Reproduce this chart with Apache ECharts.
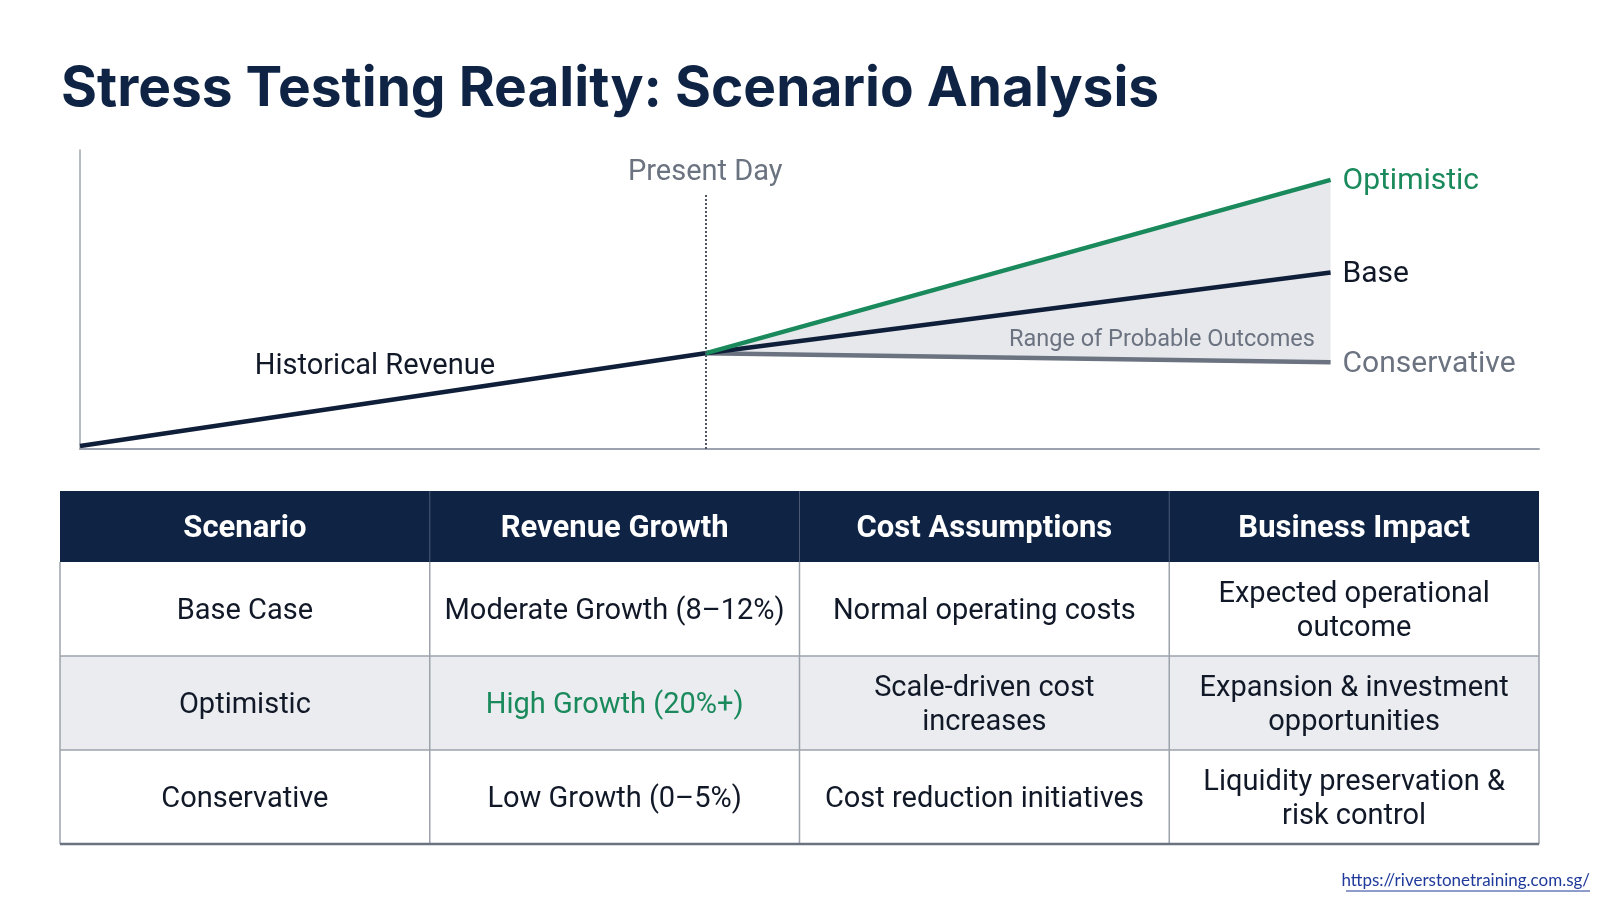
<!DOCTYPE html>
<html>
<head>
<meta charset="utf-8">
<title>Stress Testing Reality: Scenario Analysis</title>
<script src="https://cdn.jsdelivr.net/npm/echarts@6/dist/echarts.min.js"></script>
<style>
  html, body { margin: 0; padding: 0; background: #fff; }
  #chart { width: 1600px; height: 900px; }
</style>
</head>
<body>
<div id="chart"></div>
<script>
// timeline (periods) and revenue index
const historyX = [0, 6]
const historyRevenue = [1, 32]
const forecastX = [6, 12]
const optimistic = [32, 90]
const base = [32, 59]
const conservative = [32, 29]
const presentDay = 6

// scenario table
const tableHeaders = ['Scenario', 'Revenue Growth', 'Cost Assumptions', 'Business Impact']
const tableRows = [
  ['Base Case', 'Moderate Growth (8–12%)', 'Normal operating costs', 'Expected operational\noutcome'],
  ['Optimistic', 'High Growth (20%+)', 'Scale-driven cost\nincreases', 'Expansion & investment\nopportunities'],
  ['Conservative', 'Low Growth (0–5%)', 'Cost reduction initiatives', 'Liquidity preservation &\nrisk control']
]

const NAVY = '#0f2445'
const GREEN = '#1a8a5c'
const GREY = '#6b7280'
const FONT = 'Roboto'

const zip = (xs, ys) => xs.map((x, i) => [x, ys[i]])

// 表格用 graphic 画出来
function buildTable() {
  const left = 60, right = 1539, top = 491
  const headH = 71, rowH = 94
  const colW = (right - left) / tableHeaders.length
  const bottom = top + headH + rowH * tableRows.length
  const els = []

  els.push({ type: 'rect', shape: { x: left, y: top, width: right - left, height: headH }, style: { fill: NAVY } })
  tableRows.forEach((row, r) => {
    els.push({
      type: 'rect',
      shape: { x: left, y: top + headH + r * rowH, width: right - left, height: rowH },
      style: { fill: r % 2 === 1 ? '#eaecf0' : '#ffffff' }
    })
  })

  // grid lines
  for (let c = 1; c < tableHeaders.length; c++) {
    const x = left + c * colW
    els.push({ type: 'line', shape: { x1: x, y1: top, x2: x, y2: top + headH }, style: { stroke: '#4b5b75', lineWidth: 1 } })
    els.push({ type: 'line', shape: { x1: x, y1: top + headH, x2: x, y2: bottom }, style: { stroke: '#9ca3ad', lineWidth: 1.5 } })
  }
  for (let r = 1; r < tableRows.length; r++) {
    const y = top + headH + r * rowH
    els.push({ type: 'line', shape: { x1: left, y1: y, x2: right, y2: y }, style: { stroke: '#9ca3ad', lineWidth: 1.5 } })
  }
  els.push({ type: 'line', shape: { x1: left, y1: top + headH, x2: left, y2: bottom }, style: { stroke: '#9ca3ad', lineWidth: 1.5 } })
  els.push({ type: 'line', shape: { x1: right, y1: top + headH, x2: right, y2: bottom }, style: { stroke: '#9ca3ad', lineWidth: 1.5 } })
  els.push({ type: 'line', shape: { x1: left, y1: bottom, x2: right, y2: bottom }, style: { stroke: '#6b7280', lineWidth: 2.5 } })

  tableHeaders.forEach((h, c) => {
    els.push({
      type: 'text',
      x: left + c * colW + colW / 2,
      y: top + headH / 2 + 3,
      style: { text: h, fill: '#ffffff', font: 'bold 31px ' + FONT, align: 'center', verticalAlign: 'middle' }
    })
  })
  tableRows.forEach((row, r) => {
    row.forEach((cell, c) => {
      els.push({
        type: 'text',
        x: left + c * colW + colW / 2,
        y: top + headH + r * rowH + rowH / 2 + 3,
        style: {
          text: cell,
          fill: (r === 1 && c === 1) ? GREEN : '#111827',
          font: '29px ' + FONT,
          lineHeight: 34,
          align: 'center',
          verticalAlign: 'middle'
        }
      })
    })
  })

  // footer link
  els.push({
    type: 'text', x: 1590, y: 881,
    style: { text: 'https://riverstonetraining.com.sg/', fill: '#1f3a9a', font: '17px Lato', align: 'right', verticalAlign: 'middle' }
  })
  els.push({ type: 'line', shape: { x1: 1346, y1: 891, x2: 1590, y2: 891 }, style: { stroke: '#1f3a9a', lineWidth: 1 } })
  return els
}

const option = {
  backgroundColor: '#ffffff',
  animation: false,
  title: {
    text: 'Stress Testing Reality: Scenario Analysis',
    left: 56,
    top: 57,
    textStyle: { color: NAVY, fontSize: 55, fontWeight: 'bold', fontFamily: 'Inter' }
  },
  grid: { left: 80, right: 61, top: 150, bottom: 451 },
  xAxis: {
    type: 'value',
    min: 0,
    max: 14,
    axisLine: { show: true, lineStyle: { color: '#9ca3af', width: 2 } },
    axisTick: { show: false },
    axisLabel: { show: false },
    splitLine: { show: false }
  },
  yAxis: {
    type: 'value',
    min: 0,
    max: 100,
    axisLine: { show: true, lineStyle: { color: '#9ca3af', width: 1.5 } },
    axisTick: { show: false },
    axisLabel: { show: false },
    splitLine: { show: false }
  },
  series: [
    // shaded band between conservative and optimistic
    {
      type: 'custom',
      silent: true,
      z: 1,
      data: [0],
      renderItem: (params, api) => {
        const upper = forecastX.map((x, i) => api.coord([x, optimistic[i]]))
        const lower = forecastX.map((x, i) => api.coord([x, conservative[i]])).reverse()
        return { type: 'polygon', shape: { points: upper.concat(lower) }, style: { fill: '#e6e8ec' } }
      }
    },
    {
      name: 'Historical Revenue',
      type: 'line',
      z: 3,
      data: zip(historyX, historyRevenue),
      symbol: 'none',
      lineStyle: { color: '#0f1f3a', width: 4.5 },
      markPoint: {
        symbolSize: 0,
        data: [{ coord: [2.83, 27.5] }],
        label: { show: true, formatter: 'Historical Revenue', color: '#111827', fontSize: 29, fontFamily: FONT }
      },
      markLine: {
        symbol: 'none',
        silent: true,
        lineStyle: { color: '#4b5563', type: 'dotted', width: 2 },
        label: { show: true, position: 'end', formatter: 'Present Day', color: GREY, fontSize: 29, fontFamily: FONT, distance: 8 },
        data: [[{ coord: [presentDay, 0] }, { coord: [presentDay, 85] }]]
      }
    },
    {
      name: 'Conservative',
      type: 'line',
      z: 3,
      data: zip(forecastX, conservative),
      symbol: 'none',
      lineStyle: { color: GREY, width: 4.5 },
      endLabel: { show: true, formatter: 'Conservative', color: GREY, fontSize: 30, fontFamily: FONT, distance: 12, offset: [0, 2] },
      markPoint: {
        symbolSize: 0,
        data: [{ coord: [11.85, 36.5] }],
        label: { show: true, formatter: 'Range of Probable Outcomes', color: GREY, fontSize: 23.5, fontFamily: FONT, align: 'right' }
      }
    },
    {
      name: 'Base',
      type: 'line',
      z: 3,
      data: zip(forecastX, base),
      symbol: 'none',
      lineStyle: { color: '#0f1f3a', width: 4.5 },
      endLabel: { show: true, formatter: 'Base', color: '#111827', fontSize: 30, fontFamily: FONT, distance: 12, offset: [0, 2] }
    },
    {
      name: 'Optimistic',
      type: 'line',
      z: 3,
      data: zip(forecastX, optimistic),
      symbol: 'none',
      lineStyle: { color: GREEN, width: 4.5 },
      endLabel: { show: true, formatter: 'Optimistic', color: GREEN, fontSize: 30, fontFamily: FONT, distance: 12, offset: [0, 2] }
    }
  ],
  graphic: buildTable()
}

const chart = echarts.init(document.getElementById('chart'))
chart.setOption(option)
</script>
</body>
</html>
